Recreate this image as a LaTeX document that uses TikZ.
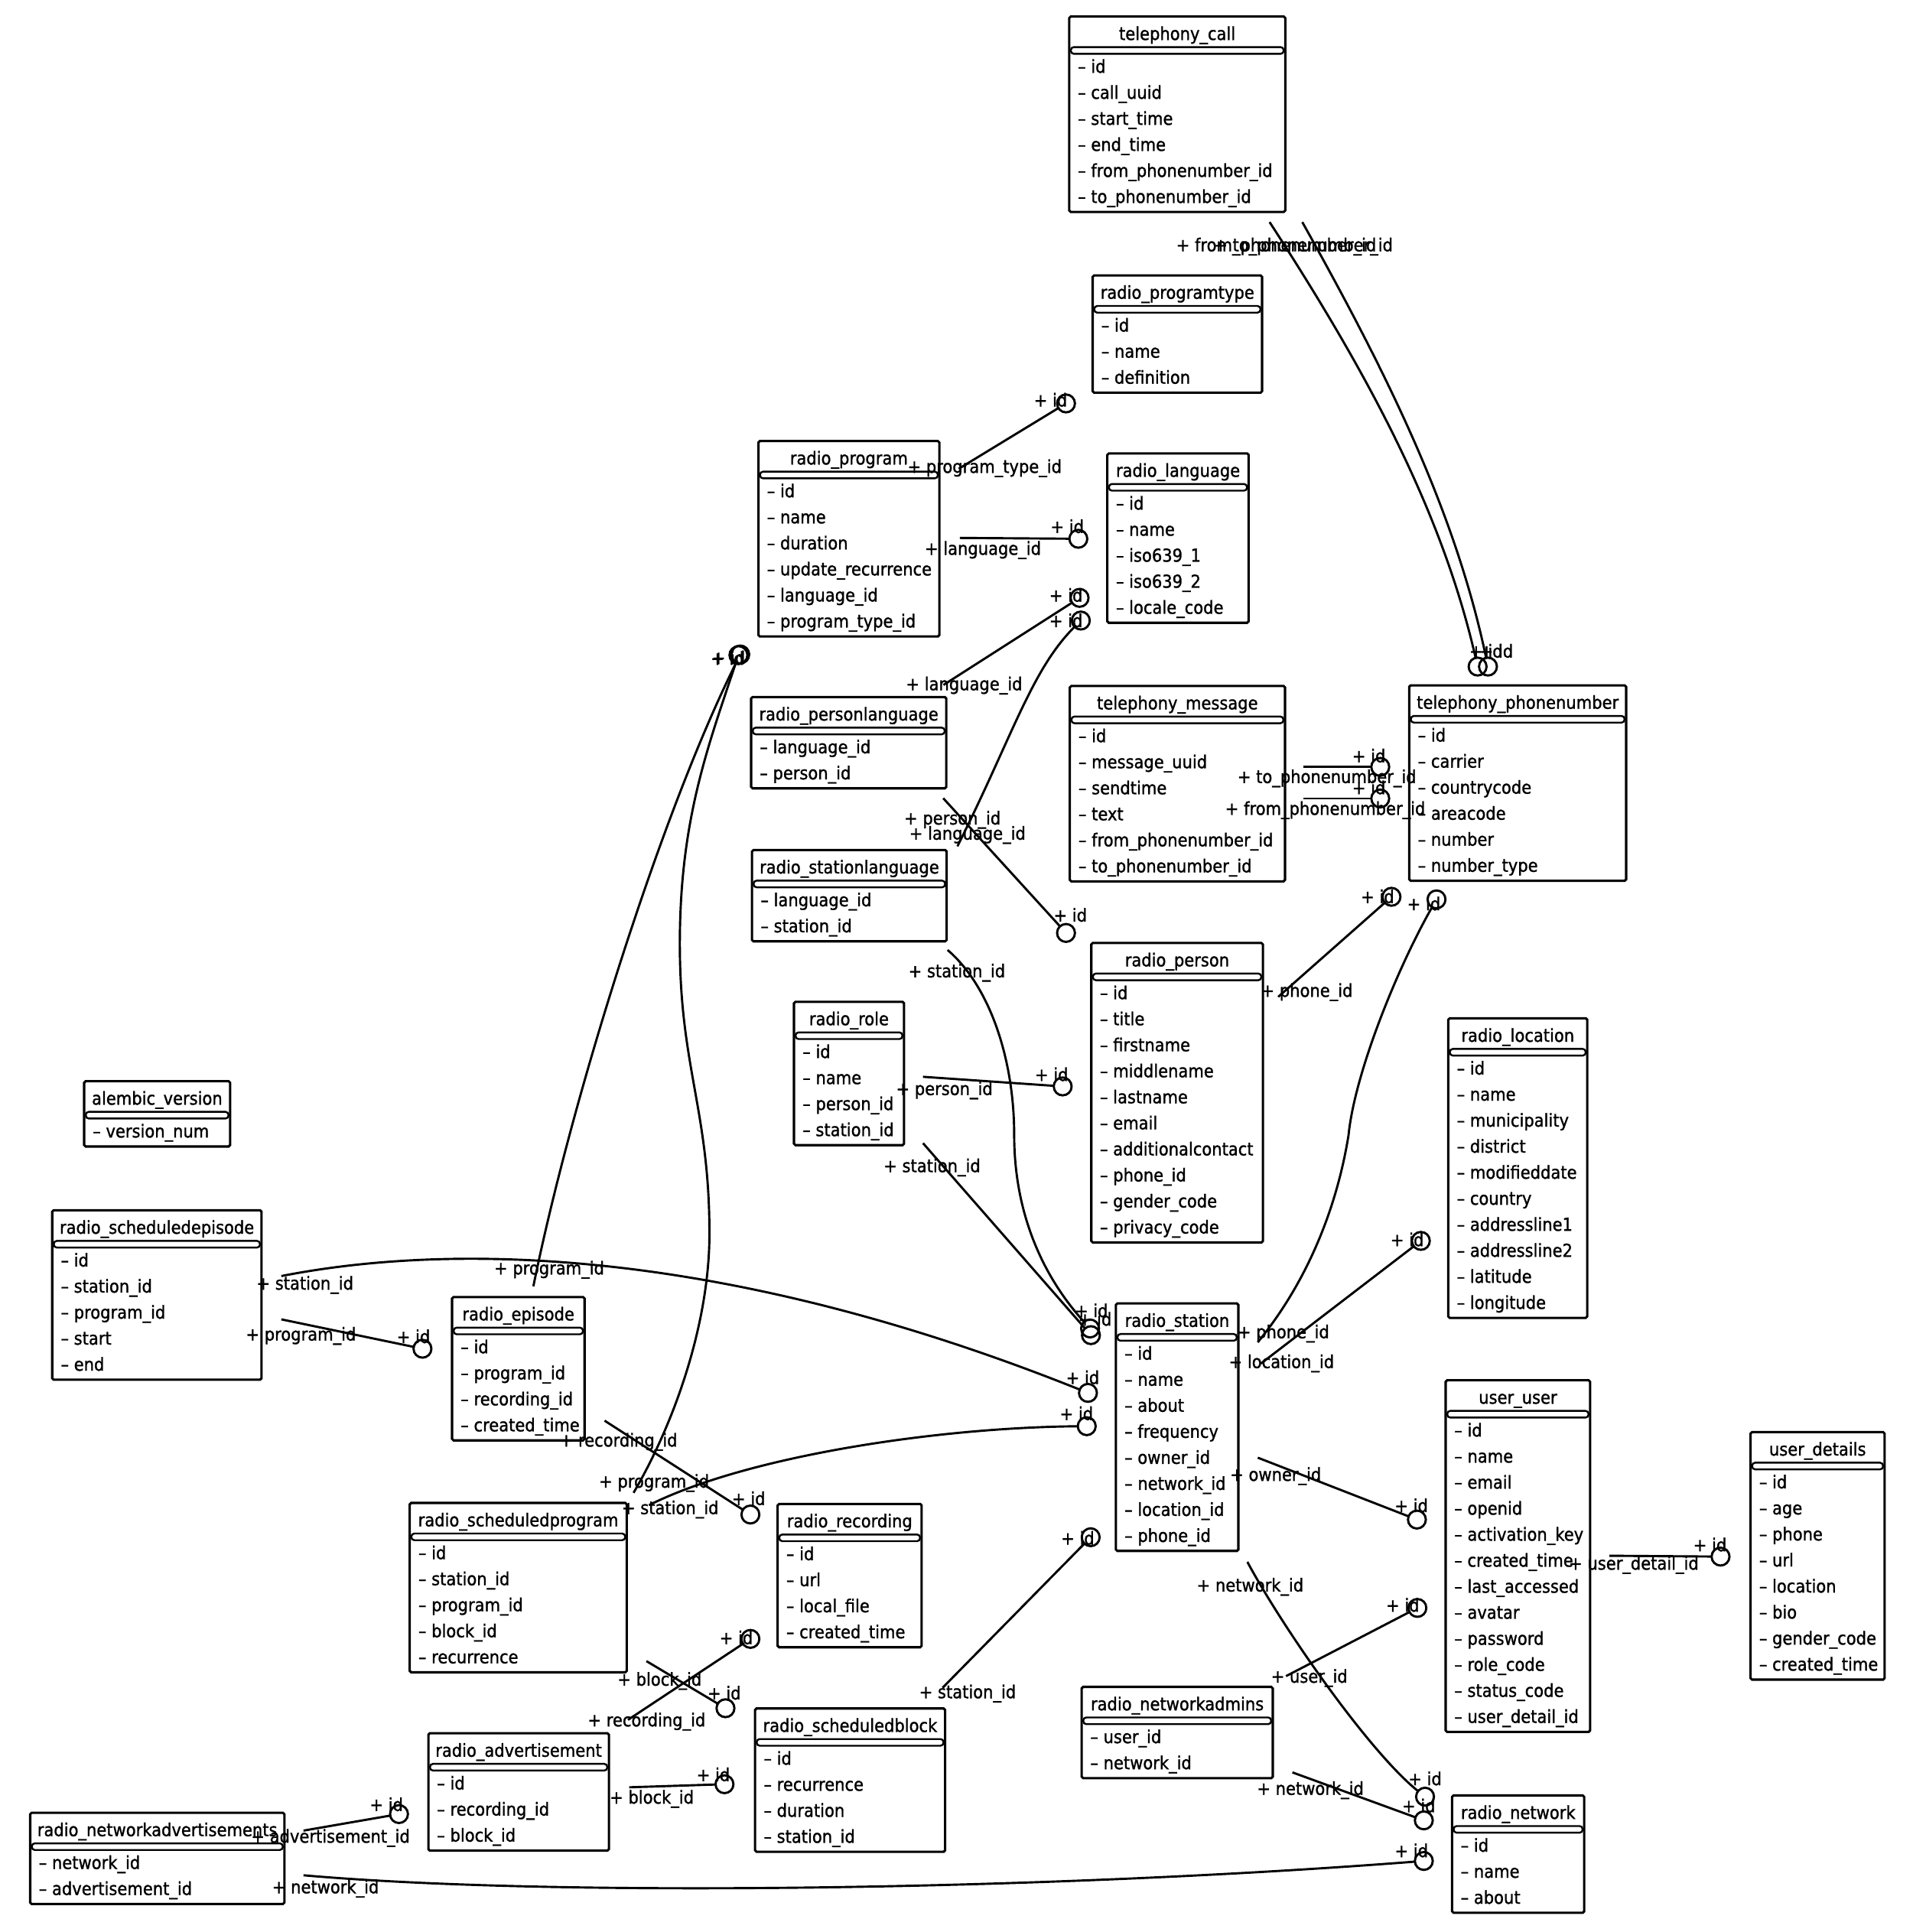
\documentclass[tikz,border=0pt]{standalone}
\usepackage{fontspec}
\newfontfamily\erfont{DejaVu Sans}[FakeStretch=0.9, FakeBold=1.2]
\usetikzlibrary{calc}

\tikzset{
  erbox/.style={draw, line width=1.9pt, rounded corners=1.2pt, inner sep=0pt, outer sep=0pt},
  ertxt/.style={font=\erfont\fontsize{14.5}{17}\selectfont, inner sep=0pt, outer sep=0pt},
  erband/.style={line width=1.5pt, rounded corners=2.4pt},
  fkline/.style={line width=1.8pt},
  pkring/.style={draw, circle, line width=1.8pt, minimum size=14.5pt, inner sep=0pt, outer sep=0pt},
  lbl/.style={ertxt, anchor=base west},
}

% #1 name, #2 left, #3 top, #4 right, #5 title, #6 rows
\newcommand{\ertable}[6]{%
  \foreach \r [count=\i] in {#6} {
    \node[ertxt, anchor=base west] (#1-\i) at (#2+7, #3+45.6+21.1*\i-21.1) {– \r};
    \xdef\ern{\i}
  }
  \node[erbox, anchor=north west, minimum width={(#4-#2)*1pt}, minimum height={(31.8+21.1*\ern)*1pt}] (#1) at (#2,#3) {};
  \node[ertxt, anchor=base] (#1-t) at ({(#2+#4)/2}, #3+19) {#5};
  \draw[erband] (#2+1.3, #3+24.8) rectangle (#4-1.3, #3+30.2);
}

% #1 id, #2 start, #3 ring centre, #4 path operation, #5 fk label pos, #6 fk text, #7 id label pos
\newcommand{\fk}[7]{%
  \coordinate (s#1) at (#2);
  \node[pkring] (c#1) at (#3) {};
  \draw[fkline] (s#1) #4 (c#1);
  \node[lbl] (f#1) at (#5) {+ #6};
  \node[lbl] (i#1) at (#7) {+ id};
}

\begin{document}
\begin{tikzpicture}[x=1pt, y=-1pt]
\useasboundingbox (0,0) rectangle (1550,1566);
\fill[white] (0,0) rectangle (1550,1566);

% ---------------- tables ----------------
\ertable{tcall}{866.6}{13.4}{1041.7}{telephony\_call}{id,call\_uuid,start\_time,end\_time,from\_phonenumber\_id,to\_phonenumber\_id}
\ertable{ptype}{885.6}{223.2}{1022.9}{radio\_programtype}{id,name,definition}
\ertable{prog}{614.7}{357.5}{761.4}{radio\_program}{id,name,duration,update\_recurrence,language\_id,program\_type\_id}
\ertable{lang}{897.5}{367.5}{1012}{radio\_language}{id,name,iso639\_1,iso639\_2,locale\_code}
\ertable{plang}{608.8}{565}{767}{radio\_personlanguage}{language\_id,person\_id}
\ertable{tmsg}{867.1}{556}{1041.5}{telephony\_message}{id,message\_uuid,sendtime,text,from\_phonenumber\_id,to\_phonenumber\_id}
\ertable{phone}{1142.2}{555.5}{1318}{telephony\_phonenumber}{id,carrier,countrycode,areacode,number,number\_type}
\ertable{slang}{609.5}{689}{767.3}{radio\_stationlanguage}{language\_id,station\_id}
\ertable{person}{884.5}{764.3}{1023.6}{radio\_person}{id,title,firstname,middlename,lastname,email,additionalcontact,phone\_id,gender\_code,privacy\_code}
\ertable{role}{643.5}{812}{732.7}{radio\_role}{id,name,person\_id,station\_id}
\ertable{loc}{1173.8}{825.4}{1286.5}{radio\_location}{id,name,municipality,district,modifieddate,country,addressline1,addressline2,latitude,longitude}
\ertable{alembic}{68.2}{876.4}{186.5}{alembic\_version}{version\_num}
\ertable{sepi}{42.3}{981}{212}{radio\_scheduledepisode}{id,station\_id,program\_id,start,end}
\ertable{epi}{366.4}{1051.3}{473.8}{radio\_episode}{id,program\_id,recording\_id,created\_time}
\ertable{station}{904.4}{1056.5}{1003.7}{radio\_station}{id,name,about,frequency,owner\_id,network\_id,location\_id,phone\_id}
\ertable{user}{1171.7}{1118.8}{1288.8}{user\_user}{id,name,email,openid,activation\_key,created\_time,last\_accessed,avatar,password,role\_code,status\_code,user\_detail\_id}
\ertable{udet}{1418.8}{1160.8}{1527.5}{user\_details}{id,age,phone,url,location,bio,gender\_code,created\_time}
\ertable{sprog}{332.1}{1218.2}{508}{radio\_scheduledprogram}{id,station\_id,program\_id,block\_id,recurrence}
\ertable{rec}{630.3}{1219}{747}{radio\_recording}{id,url,local\_file,created\_time}
\ertable{nadm}{876.7}{1367.3}{1031.6}{radio\_networkadmins}{user\_id,network\_id}
\ertable{adv}{347.2}{1404.9}{493.5}{radio\_advertisement}{id,recording\_id,block\_id}
\ertable{sblock}{612}{1384.8}{766}{radio\_scheduledblock}{id,recurrence,duration,station\_id}
\ertable{nadv}{24.5}{1469.3}{230.5}{radio\_networkadvertisements}{network\_id,advertisement\_id}
\ertable{net}{1176.9}{1455.3}{1284}{radio\_network}{id,name,about}

% ---------------- connectors ----------------
\fk{A}{777,380}{864,327}{--}{735.6,383.3}{program\_type\_id}{838,329.5}
\fk{B}{778,436}{874,436.7}{--}{749.5,449.7}{language\_id}{851.5,432}
\fk{C}{764.7,555.2}{875,484.6}{--}{734.3,559.5}{language\_id}{850.5,487.7}
\fk{D}{776,686}{876,503}{.. controls +(45,-90) and +(-40,40) ..}{737,680.6}{language\_id}{850.5,508.3}
\fk{E}{764.5,647}{864,756.2}{--}{732.8,668.3}{person\_id}{854,747}
\fk{F}{1029,180}{1197.6,540.3}{.. controls +(78,120) and +(-29,-127) ..}{953.3,203.7}{from\_phonenumber\_id}{1191,533}
\fk{Ft}{1055.5,180}{1206,540.3}{.. controls +(67.2,120) and +(-26.8,-127.3) ..}{984,203.7}{to\_phonenumber\_id}{1199.4,533}
\fk{G}{1056.5,621.6}{1118.7,621.6}{--}{1003,634.7}{to\_phonenumber\_id}{1096,617.9}
\fk{H}{1056.5,647.2}{1118.7,647.2}{--}{993,660.5}{from\_phonenumber\_id}{1096,643.7}
\fk{I}{1036,808}{1127.8,726.9}{--}{1022,808}{phone\_id}{1103,732}
\fk{J}{1019.4,1088}{1164.3,729}{.. controls +(45,-55) and +(-8,50) .. (1093,920) .. controls +(5,-50) and +(-32,56) ..}{1003,1084.7}{phone\_id}{1140.5,737.8}
\fk{K}{1022,1105.2}{1151.6,1005.8}{--}{996,1108.9}{location\_id}{1127,1010.1}
\fk{L}{1019.4,1181.5}{1148.4,1231.7}{--}{997,1200.3}{owner\_id}{1130.4,1225.6}
\fk{M}{1304.4,1261}{1394.5,1261.7}{--}{1271.6,1272.3}{user\_detail\_id}{1372.4,1257.4}
\fk{N}{1042.3,1358.6}{1148.8,1303.3}{--}{1030.2,1363.9}{user\_id}{1123.4,1306.3}
\fk{O}{1047.5,1436.6}{1154,1475.5}{--}{1018.8,1454.8}{network\_id}{1136.4,1468.9}
\fk{P}{1011,1266}{1155,1456.3}{.. controls +(29,54) and +(-45,-36) ..}{970,1290}{network\_id}{1141.5,1447}
\fk{Q}{246,1520}{1154,1508.4}{.. controls +(204,18) and +(-304,23.6) ..}{220.6,1534.6}{network\_id}{1130.5,1505.3}
\fk{R}{246,1483.8}{323.4,1470.4}{--}{203.6,1493.6}{advertisement\_id}{299.7,1467.9}
\fk{S}{510,1448.7}{587.2,1446.2}{--}{494.2,1461.9}{block\_id}{564.6,1443.7}
\fk{T}{509,1394}{608.2,1328.4}{--}{476.4,1399.3}{recording\_id}{583.2,1332.7}
\fk{U}{523.9,1346.4}{588,1384.6}{--}{500.5,1366.3}{block\_id}{573.5,1377.5}
\fk{V}{764,1368}{884,1246}{--}{745,1376.5}{station\_id}{860,1252}
\fk{W}{490,1151.5}{608.2,1227.6}{--}{453.6,1172.5}{recording\_id}{593.3,1219.9}
\fk{X}{526,1220}{880.8,1156}{.. controls +(80,-40) and +(-120,1) ..}{504,1227.3}{station\_id}{859,1151}
\fk{Y}{513.5,1210}{598.5,531}{.. controls +(35,-60) and +(0,70) .. (575,1000) .. controls +(0,-100) and +(0,100) .. (551,765) .. controls +(0,-100) and +(-25,75) ..}{485.5,1205.8}{program\_id}{576,538.8}
\fk{Z}{432.3,1042.6}{600,530.5}{.. controls +(30,-148) and +(-65,130) ..}{400.5,1033}{program\_id}{577,538.3}
\fk{AA}{228,1034.3}{881.8,1129}{.. controls +(112,-22) and +(-322,-129) ..}{208,1045.3}{station\_id}{864,1121.8}
\fk{BB}{228,1069.4}{342.4,1093.2}{--}{199.3,1086.6}{program\_id}{321.6,1088.6}
\fk{CC}{748.1,872.8}{861.3,880.6}{--}{726.3,887.6}{person\_id}{838.8,876.2}
\fk{DD}{748.1,926.6}{884.2,1082.2}{--}{716.2,950.1}{station\_id}{874,1074.5}
\fk{EE}{768,770}{883.5,1076.8}{.. controls +(35,30) and +(0,-60) .. (822,920) .. controls +(0,70) and +(-33.5,-36.8) ..}{736.3,792.2}{station\_id}{871,1067.6}
\end{tikzpicture}
\end{document}
